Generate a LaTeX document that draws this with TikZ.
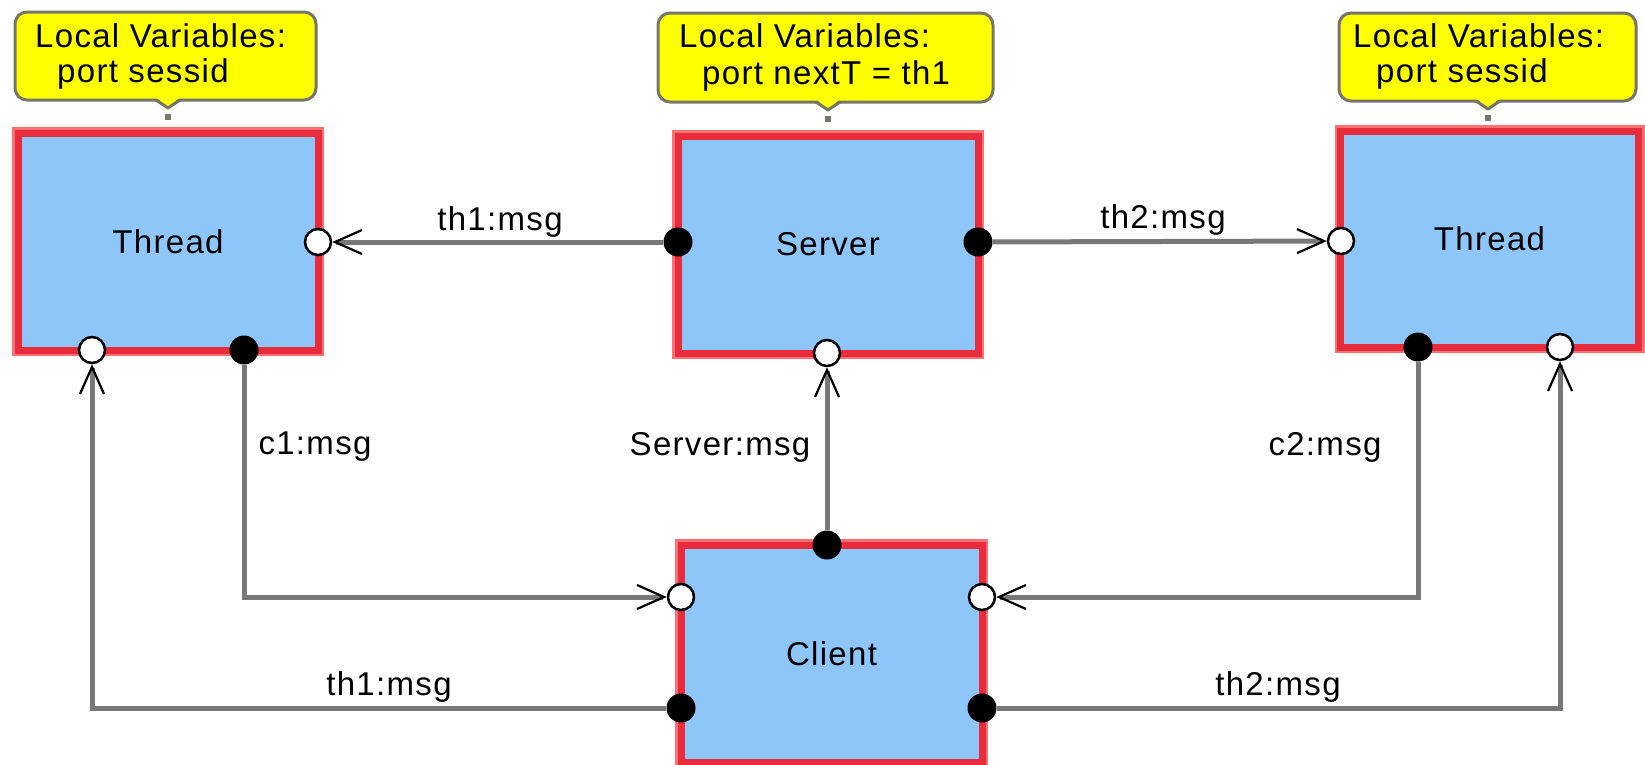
\documentclass[tikz,border=0pt]{standalone}
\usepackage{fontspec}
\setmainfont[LetterSpace=4]{Liberation Sans}
\usetikzlibrary{arrows.meta}

\definecolor{boxblue}{RGB}{142,198,250}
\definecolor{boxred}{RGB}{232,44,60}
\definecolor{boxredlight}{RGB}{255,112,116}
\definecolor{noteyellow}{RGB}{255,255,0}
\definecolor{notegray}{RGB}{118,118,104}
\definecolor{wiregray}{RGB}{120,120,120}

\tikzset{
  block/.style={draw=boxred, line width=7pt, fill=boxblue,
    preaction={draw=boxredlight, line width=12pt},
    minimum width=300pt, minimum height=217pt, inner sep=0pt},
  note/.style={draw=notegray, line width=3pt, fill=noteyellow,
    rounded corners=12pt, inner sep=0pt},
  notetext/.style={anchor=base west, inner sep=0pt},
  portopen/.style={circle, draw=black, line width=2.5pt, fill=white,
    minimum size=26pt, inner sep=0pt},
  portfull/.style={circle, fill=black, minimum size=29pt, inner sep=0pt},
  wire/.style={draw=wiregray, line width=5pt},
  into/.style={-{Straight Barb[length=27pt,width=24pt,line width=2.2pt,color=black]}},
  lbl/.style={inner sep=0pt}
}

\begin{document}
\begin{tikzpicture}[x=1pt, y=-1pt, font=\fontsize{33}{38}\selectfont]
\useasboundingbox (0,0) rectangle (1645,764);

% local-variable notes
\node[note, minimum width=301pt, minimum height=88pt] (noteL) at (165.5,56) {};
\node[note, minimum width=335pt, minimum height=89pt] (noteS) at (825.5,57.5) {};
\node[note, minimum width=297pt, minimum height=88pt] (noteR) at (1487.5,57) {};

\foreach \px/\py in {168/100, 828/102, 1488/101}{
  \fill[noteyellow] (\px-12,\py-3) -- (\px,\py+8) -- (\px+12,\py-3) -- cycle;
  \draw[notegray, line width=3pt, line join=round] (\px-12,\py) -- (\px,\py+8) -- (\px+12,\py);
  \fill[notegray] (\px-3,\py+14) rectangle (\px+3,\py+20);
}

\node[notetext] (noteL1) at (35,47) {Local Variables:};
\node[notetext] (noteL2) at (57,82) {port sessid};
\node[notetext] (noteS1) at (679,47) {Local Variables:};
\node[notetext] (noteS2) at (702,84) {port nextT = th1};
\node[notetext] (noteR1) at (1353,47) {Local Variables:};
\node[notetext] (noteR2) at (1376,82) {port sessid};

% components
\node[block] (thL) at (168,241.5) {Thread};
\node[block] (srv) at (828,244.5) {Server};
\node[block, minimum width=298pt, minimum height=216pt] (thR) at (1489.5,239) {Thread};
\node[block, minimum width=301pt] (cli) at (831.5,653.5) {Client};

% ports
\node[portopen] (thLin)  at (318,242) {};
\node[portopen] (thLbin) at (92,350) {};
\node[portfull] (thLout) at (244,350) {};

\node[portfull] (srvL) at (678,242) {};
\node[portfull] (srvR) at (978,242) {};
\node[portopen] (srvB) at (827,353) {};

\node[portopen] (thRin)  at (1341,241) {};
\node[portfull] (thRout) at (1418,347) {};
\node[portopen] (thRbin) at (1560,347) {};

\node[portfull] (cliT)  at (827,545) {};
\node[portopen] (cliL)  at (681,597) {};
\node[portopen] (cliR)  at (982,597) {};
\node[portfull] (cliLo) at (681,708) {};
\node[portfull] (cliRo) at (982,708) {};

% message channels
\draw[wire, into] (srvL) -- (thLin);
\draw[wire, into] (srvR) -- (thRin);
\draw[wire, into] (cliT) -- (srvB);
\draw[wire, into] (thLout) |- (cliL);
\draw[wire, into] (thRout) |- (cliR);
\draw[wire, into] (cliLo) -| (thLbin);
\draw[wire, into] (cliRo) -| (thRbin);

% channel labels
\node[lbl] (m1) at (500,222) {th1:msg};
\node[lbl] (m2) at (1163,220) {th2:msg};
\node[lbl] (m3) at (315,447) {c1:msg};
\node[lbl] (m4) at (720,447) {Server:msg};
\node[lbl] (m5) at (1325,447) {c2:msg};
\node[lbl] (m6) at (389,687) {th1:msg};
\node[lbl] (m7) at (1278,687) {th2:msg};
\end{tikzpicture}
\end{document}
